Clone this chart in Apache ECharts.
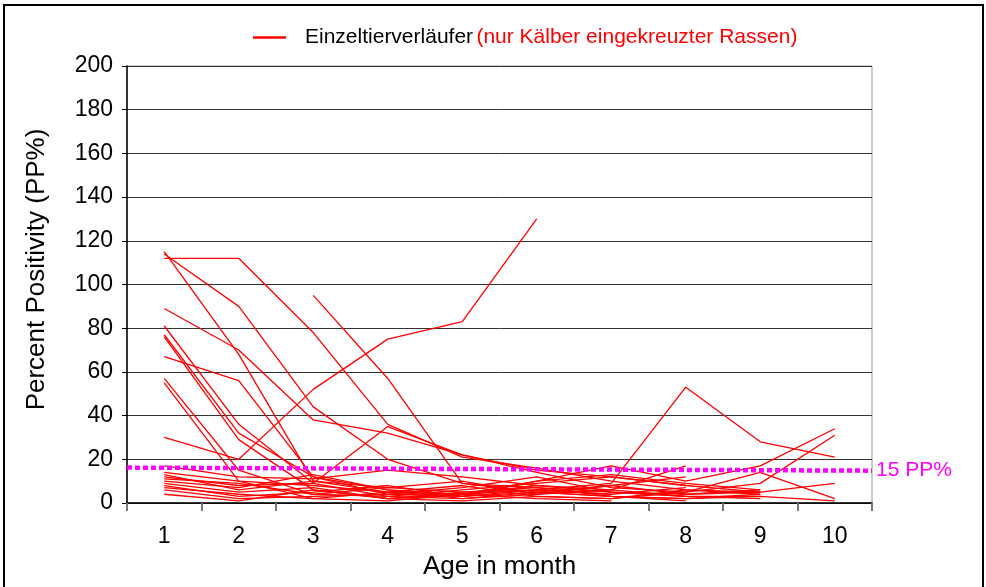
<!DOCTYPE html>
<html lang="de">
<head>
    <meta charset="utf-8">
    <title>Einzeltierverläufer</title>
    <script src="https://cdn.jsdelivr.net/npm/echarts@6/dist/echarts.min.js"></script>
</head>
<body style="margin:0">
<div id="main" style="width:986px;height:587px;"></div>
<script type="text/javascript">
    // Alter in Monaten
    var months = ['1','2','3','4','5','6','7','8','9','10'];
    var yTicks = [0, 200, 20];

    // PP% je Kalb (null = kein Wert)
    var k01 = [115, 68, 10, 5, 3, 6, 4, null, null, null];
    var k02 = [114, 90, 44, 20, 9, 7, 5, 3, 3, null];
    var k03 = [112, 112, 78, 36, 21, 16, 10, 6, 4, null];
    var k04 = [89, 70, 38, 32, 22, 15, 12, 8, 5, 9];
    var k05 = [81, 36, 9, 3, 2, 5, 3, 2, 3, 1];
    var k06 = [77, 32, 12, 6, 4, 8, 6, 17, null, null];
    var k07 = [76, 29, 6, 2, 4, 10, 17, 10, 17, 34];
    var k08 = [67, 56, 12, 4, 3, 5, 8, 4, 6, null];
    var k09 = [57, 15, 4, 7, 5, 6, 4, 7, null, null];
    var k10 = [55, 10, 2, 5, 8, 3, 2, 5, 9, 31];
    var k11 = [30, 20, 52, 75, 83, 130, null, null, null, null];
    var k12 = [null, null, 95, 57, 9, 5, 3, 2, 4, null];
    var k13 = [14, 10, 8, 5, 4, 6, 9, 53, 28, 21];
    var k14 = [12, 8, 9, 35, 22, 14, 7, 5, 14, 2];
    var k15 = [17, 12, 11, 15, 12, 8, 5, 4, 5, null];
    var k16 = [11, 9, 4, 3, 6, 9, 12, 8, null, null];
    var k17 = [10, 7, 13, 6, 2, 4, 6, 3, 2, null];
    var k18 = [9, 5, 7, 2, 5, 7, 3, 1, null, null];
    var k19 = [8, 3, 5, 8, 3, 10, 13, 9, 6, null];
    var k20 = [6, 2, 3, 4, 7, 12, 5, 3, null, null];
    var k21 = [4, 1, 6, 2, 1, 3, 2, 6, 5, null];
    var k22 = [13, 6, 10, 7, 10, 4, 8, 12, null, null];
    var k23 = [7, 4, 2, 1, 4, 2, 1, null, null, null];

    // Grenzwert 15 PP% (Anfang/Ende der Linie)
    var grenzX = [0, 10];
    var grenzY = [16.2, 14.8];

    var kaelber = [k01,k02,k03,k04,k05,k06,k07,k08,k09,k10,k11,k12,k13,k14,k15,k16,k17,k18,k19,k20,k21,k22,k23];

    var font = 'Liberation Sans, Arial, sans-serif';
    var myChart = echarts.init(document.getElementById('main'));

    var series = [];
    for (var i = 0; i < kaelber.length; i++) {
        series.push({
            name: 'Einzeltierverläufer',
            type: 'line',
            data: kaelber[i],
            showSymbol: false,
            silent: true,
            lineStyle: {color: '#ff0000', width: 1.3},
            itemStyle: {color: '#ff0000'}
        });
    }
    series.push({
        name: 'grenze',
        type: 'line',
        xAxisIndex: 1,
        data: [[grenzX[0], grenzY[0]], [grenzX[1], grenzY[1]]],
        showSymbol: false,
        silent: true,
        lineStyle: {color: '#ff00ff', width: 4.5, type: [5, 3]},
        endLabel: {
            show: true,
            formatter: '15 PP%',
            color: '#ff00ff',
            fontFamily: font,
            fontSize: 21,
            distance: 4
        }
    });

    option = {
        animation: false,
        backgroundColor: '#fff',
        textStyle: {fontFamily: font},
        graphic: [{
            type: 'rect',
            shape: {x: 4, y: 5, width: 979, height: 640},
            style: {fill: 'none', stroke: '#000', lineWidth: 2},
            z: -1
        }],
        legend: {
            data: ['Einzeltierverläufer'],
            left: 248,
            top: 22,
            icon: 'rect',
            itemWidth: 33,
            itemHeight: 2.5,
            formatter: function (name) {
                return '{a|' + name + '} {b|(nur Kälber eingekreuzter Rassen)}';
            },
            textStyle: {
                rich: {
                    a: {color: '#000', fontSize: 21, fontFamily: font, padding: [0, 0, 0, 14]},
                    b: {color: '#ff0000', fontSize: 21, fontFamily: font}
                }
            }
        },
        grid: {
            left: 127, right: 114, top: 66, bottom: 84,
            show: true, borderColor: '#999', borderWidth: 1
        },
        xAxis: [{
            type: 'category',
            data: months,
            boundaryGap: true,
            name: 'Age in month',
            nameLocation: 'middle',
            nameGap: 51,
            nameTextStyle: {fontSize: 26, color: '#000', fontFamily: font},
            axisLine: {lineStyle: {color: '#000', width: 1.5}},
            axisTick: {show: true, length: 8, inside: false, alignWithLabel: false, lineStyle: {color: '#777', width: 2}},
            axisLabel: {fontSize: 23, color: '#000', margin: 22, fontFamily: font},
            splitLine: {show: false}
        }, {
            type: 'value',
            min: 0,
            max: 10,
            show: false
        }],
        yAxis: {
            type: 'value',
            min: yTicks[0],
            max: yTicks[1],
            interval: yTicks[2],
            name: 'Percent Positivity (PP%)',
            nameLocation: 'middle',
            nameGap: 77,
            nameTextStyle: {fontSize: 26, color: '#000', fontFamily: font, padding: [0, 0, 0, 30]},
            axisLine: {show: true, lineStyle: {color: '#000', width: 1.5}},
            axisTick: {show: true, length: 5, lineStyle: {color: '#000'}},
            axisLabel: {fontSize: 23, color: '#000', margin: 14, fontFamily: font},
            splitLine: {lineStyle: {color: '#333', width: 1}}
        },
        series: series
    };

    myChart.setOption(option);
</script>
</body>
</html>
